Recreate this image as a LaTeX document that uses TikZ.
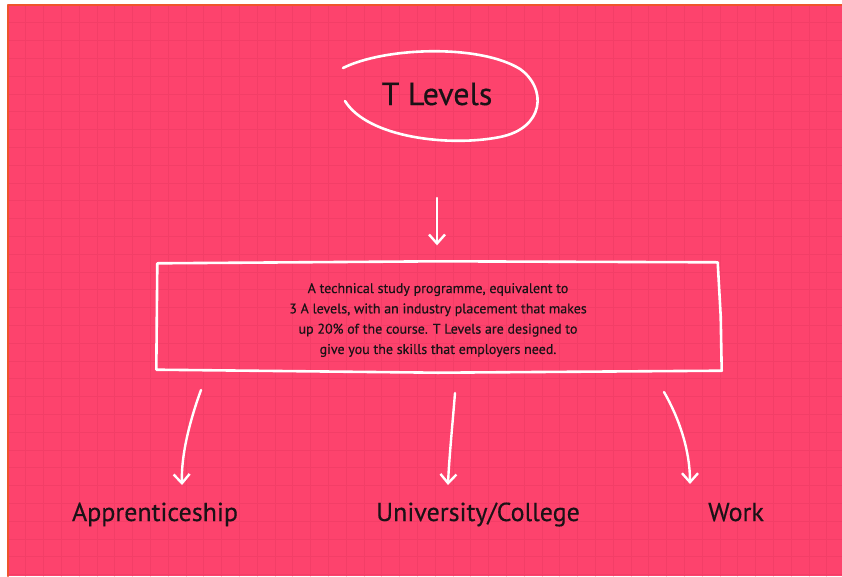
\documentclass[tikz,border=0pt]{standalone}
\usepackage{fontspec}
\setmainfont{PT Sans}[FakeBold=0.35]
\usetikzlibrary{arrows.meta}
\definecolor{tpink}{RGB}{253,67,109}
\definecolor{tgrid}{RGB}{243,62,103}
\definecolor{tedge}{RGB}{238,84,44}
\definecolor{tink}{RGB}{26,18,22}

\begin{document}
\begin{tikzpicture}[x=1pt, y=-1pt, line cap=round, line join=round,
    chalk/.style={draw=white, line width=2.6pt},
    outcome/.style={font=\fontsize{26}{30}\selectfont, text=tink, inner sep=0pt, anchor=base},
    chalkarrow/.style={white, line width=2.4pt, -{Straight Barb[length=9pt,width=16pt,line width=2.4pt]}}]
        % Background
        \useasboundingbox (0,0) rectangle (842,576);
        \fill[white] (0,0) rectangle (842,576);
        \fill[tpink] (8,5) rectangle (842,576);
        \foreach \i in {1,...,46} \draw[tgrid, line width=0.7pt] (8+17.8*\i,5) -- (8+17.8*\i,576);
        \foreach \j in {1,...,32} \draw[tgrid, line width=0.7pt] (8,5+17.8*\j) -- (842,5+17.8*\j);
        \draw[tedge, line width=2pt] (842,5) -- (8,5) -- (8,576);

        % Nodes
        \node (tlevels) [anchor=base, inner sep=0pt, text=tink, font=\fontsize{32}{36}\selectfont] at (437,105) {T Levels};
        \node (desc) [minimum width=563, minimum height=109, align=center, text=tink,
            font=\fontsize{14}{20.3}\selectfont] at (438,320)
            {A technical study programme, equivalent to\\
             3 A levels, with an industry placement that makes\\
             up 20\% of the course. T Levels are designed to\\
             give you the skills that employers need.};
        \node (appr) [outcome] at (155,521) {Apprenticeship};
        \node (uni)  [outcome] at (478,521) {University/College};
        \node (work) [outcome] at (736,521) {Work};

        % Hand-drawn outlines
        \draw[chalk] (343,68) .. controls (385,47) and (480,44) .. (520,69)
            .. controls (547,88) and (545,128) .. (500,137)
            .. controls (450,147) and (368,138) .. (345,101);
        \draw[chalk] ([xshift=1pt,yshift=2pt]desc.north west) -- ([yshift=4pt]desc.north)
            -- ([xshift=-2pt,yshift=3pt]desc.north east) -- ([xshift=1pt,yshift=-51pt]desc.north east)
            -- ([xshift=2pt,yshift=4pt]desc.south east) -- ([yshift=2pt]desc.south)
            -- ([yshift=5pt]desc.south west) -- ([xshift=1pt,yshift=2pt]desc.north west);

        % Edges
        \coordinate (down) at (437,198);
        \draw[chalkarrow] (down) -- ([yshift=20pt]desc.north -| down);
        \coordinate (s1) at (201,390);
        \coordinate (s2) at (455,393);
        \coordinate (s3) at (664,392);
        \draw[chalkarrow] (s1) .. controls (190,420) and (181,455) .. ([xshift=27pt,yshift=36pt]appr.base);
        \draw[chalkarrow] (s2) .. controls (452,430) and (449,460) .. ([xshift=-30pt,yshift=36pt]uni.base);
        \draw[chalkarrow] (s3) .. controls (679,418) and (690,450) .. ([xshift=-46pt,yshift=37pt]work.base);
\end{tikzpicture}
\end{document}
